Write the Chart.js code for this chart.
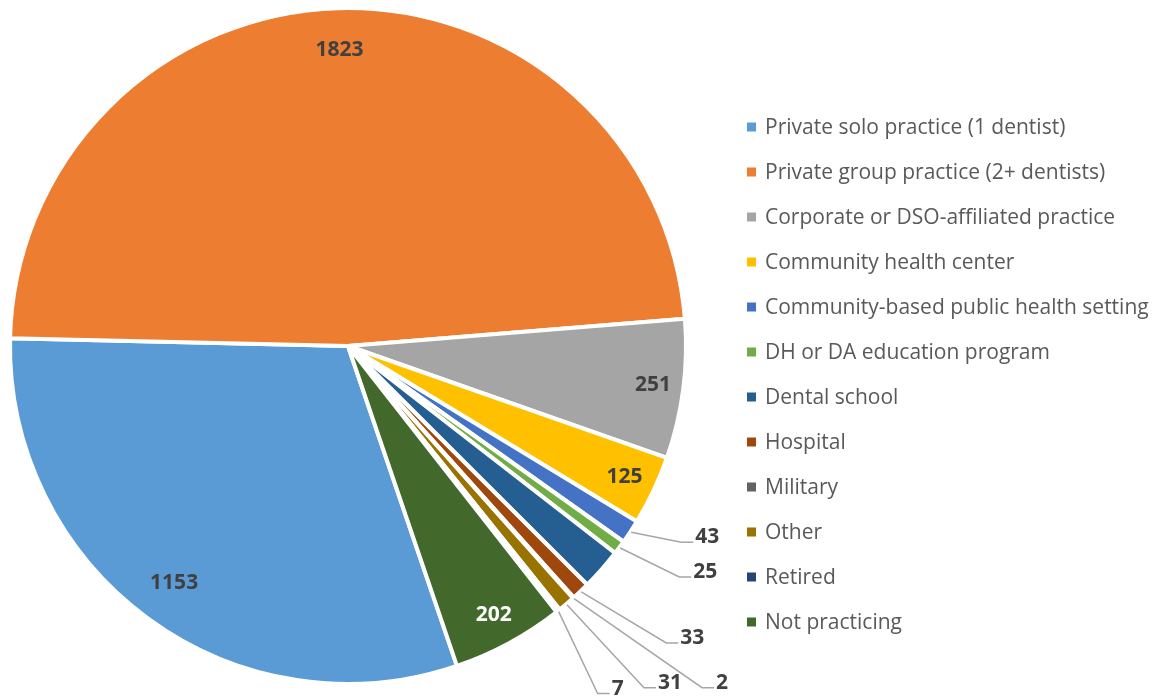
<!DOCTYPE html>
<html>
<head>
<meta charset="utf-8">
<title>Practice setting</title>
<script src="https://cdn.jsdelivr.net/npm/chart.js@4.4.1/dist/chart.umd.min.js"></script>
<style>
  html, body { margin: 0; padding: 0; background: #fff; }
  canvas { display: block; }
</style>
</head>
<body>
<canvas id="practiceChart" width="1161" height="696"></canvas>
<script>
// categories and counts
const categories = [
    'Private solo practice (1 dentist)',
    'Private group practice (2+ dentists)',
    'Corporate or DSO-affiliated practice',
    'Community health center',
    'Community-based public health setting',
    'DH or DA education program',
    'Dental school',
    'Hospital',
    'Military',
    'Other',
    'Retired',
    'Not practicing'
];
const counts = [1153, 1823, 251, 125, 43, 25, 75, 33, 2, 31, 7, 202];

const sliceColors = ['#5B9BD5', '#ED7D31', '#A5A5A5', '#FFC000', '#4472C4', '#70AD47',
                     '#255E91', '#9E480E', '#636363', '#997300', '#264478', '#43682B'];

// how each value label is shown: 'in' inside the slice, 'out' with a leader line, null hidden
const labelModes = ['in', 'in', 'in', 'in', 'out', 'out', null, 'out', 'out', 'out', 'out', 'in'];
const insideRadius = [0.87, 0.875, 0.91, 0.905, 0, 0, 0, 0, 0, 0, 0, 0.905];
const insideColors = ['#404040', '#404040', '#404040', '#404040', '', '', '', '', '', '', '', '#ffffff'];
// elbow of the leader line, relative to the slice edge
const leaderOffsets = [null, null, null, null, [50, 10], [59, 29], null, [85, 51], [128, 89], [77, 83], [39, 82], null];

const labelFont = 'bold 21px "Open Sans"';
const legendFont = '21px "Open Sans"';

const sliceLabels = {
    id: 'sliceLabels',
    afterDatasetsDraw(chart) {
        const ctx = chart.ctx;
        const meta = chart.getDatasetMeta(0);
        ctx.save();
        ctx.font = labelFont;
        meta.data.forEach((arc, i) => {
            const mode = labelModes[i];
            if (!mode) return;
            const p = arc.getProps(['x', 'y', 'startAngle', 'endAngle', 'outerRadius']);
            const mid = (p.startAngle + p.endAngle) / 2;
            const text = String(chart.data.datasets[0].data[i]);
            if (mode === 'in') {
                const r = p.outerRadius * insideRadius[i];
                ctx.fillStyle = insideColors[i];
                ctx.textAlign = 'center';
                ctx.textBaseline = 'middle';
                ctx.fillText(text, p.x + Math.cos(mid) * r, p.y + Math.sin(mid) * r);
            } else {
                const ax = p.x + Math.cos(mid) * (p.outerRadius + 1);
                const ay = p.y + Math.sin(mid) * (p.outerRadius + 1);
                const ex = ax + leaderOffsets[i][0];
                const ey = ay + leaderOffsets[i][1];
                ctx.strokeStyle = '#a6a6a6';
                ctx.lineWidth = 1.5;
                ctx.beginPath();
                ctx.moveTo(ax, ay);
                ctx.lineTo(ex, ey);
                ctx.lineTo(ex + 12, ey);
                ctx.stroke();
                ctx.fillStyle = '#404040';
                ctx.textAlign = 'left';
                ctx.textBaseline = 'alphabetic';
                ctx.fillText(text, ex + 14, ey + 1);
            }
        });
        ctx.restore();
    }
};

// legend drawn by hand so the rows sit where the original has them
const sideLegend = {
    id: 'sideLegend',
    afterDraw(chart) {
        const ctx = chart.ctx;
        ctx.save();
        ctx.font = legendFont;
        ctx.textAlign = 'left';
        ctx.textBaseline = 'alphabetic';
        chart.data.labels.forEach((label, i) => {
            const y = 127 + i * 45;
            ctx.fillStyle = sliceColors[i];
            ctx.fillRect(747, y - 4.5, 9, 9);
            ctx.fillStyle = '#595959';
            ctx.fillText(label, 765, y + 7);
        });
        ctx.restore();
    }
};

function drawChart() {
    const ctx = document.getElementById('practiceChart').getContext('2d');
    new Chart(ctx, {
        type: 'pie',
        data: {
            labels: categories,
            datasets: [{
                data: counts,
                backgroundColor: sliceColors,
                borderColor: '#ffffff',
                borderWidth: 4
            }]
        },
        options: {
            responsive: false,
            animation: false,
            events: [],
            rotation: 161.2,
            layout: {
                padding: { left: 8, top: 6, right: 473, bottom: 10 }
            },
            plugins: {
                legend: { display: false },
                tooltip: { enabled: false }
            }
        },
        plugins: [sliceLabels, sideLegend]
    });
}

Promise.all([document.fonts.load(labelFont), document.fonts.load(legendFont)]).then(drawChart, drawChart);
</script>
</body>
</html>
